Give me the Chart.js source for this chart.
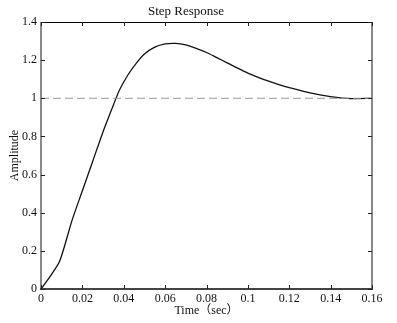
<!DOCTYPE html>
<html>
<head>
<meta charset="utf-8">
<title>Step Response</title>
<script src="https://cdn.jsdelivr.net/npm/chart.js@4/dist/chart.umd.min.js"></script>
<style>
  html, body { margin: 0; padding: 0; background: #fff; }
</style>
</head>
<body>
<canvas id="stepChart" width="397" height="323"></canvas>
<script>
// step response samples (sec, amplitude)
const timeSec = [0, 0.004, 0.009, 0.015, 0.02, 0.025, 0.03, 0.035, 0.038, 0.042,
  0.046, 0.05, 0.055, 0.06, 0.065, 0.07, 0.075, 0.08, 0.085, 0.09,
  0.095, 0.1, 0.105, 0.11, 0.115, 0.12, 0.13, 0.14, 0.15, 0.16];
const amplitude = [0, 0.06, 0.145, 0.36, 0.515, 0.67, 0.825, 0.965, 1.045, 1.122,
  1.183, 1.232, 1.268, 1.285, 1.288, 1.28, 1.262, 1.24, 1.213, 1.186,
  1.158, 1.132, 1.11, 1.09, 1.072, 1.056, 1.028, 1.009, 0.998, 1.0];

// steady-state reference line
const refTime = [0, 0.16];
const refLevel = [1, 1];

const xTicks = [0, 0.02, 0.04, 0.06, 0.08, 0.1, 0.12, 0.14, 0.16];
const xTickLabels = ["0", "0.02", "0.04", "0.06", "0.08", "0.1", "0.12", "0.14", "0.16"];
const yTicks = [0, 0.2, 0.4, 0.6, 0.8, 1, 1.2, 1.4];
const yTickLabels = ["0", "0.2", "0.4", "0.6", "0.8", "1", "1.2", "1.4"];

const serif = "'Liberation Serif', 'Times New Roman', 'Noto Sans CJK SC', serif";

// box around the plot with inward tick marks
const framePlugin = {
  id: "frame",
  afterDraw(chart) {
    const { ctx, chartArea: a, scales: { x, y } } = chart;
    ctx.save();

    ctx.lineWidth = 1;
    ctx.strokeStyle = "#000";
    ctx.beginPath();
    ctx.moveTo(a.left, a.top + 0.5);
    ctx.lineTo(a.right, a.top + 0.5);
    ctx.stroke();

    ctx.lineWidth = 2;
    ctx.strokeStyle = "#888";
    ctx.beginPath();
    ctx.moveTo(a.left, a.top);
    ctx.lineTo(a.left, a.bottom);
    ctx.moveTo(a.right, a.top);
    ctx.lineTo(a.right, a.bottom);
    ctx.stroke();

    ctx.strokeStyle = "#444";
    ctx.beginPath();
    ctx.moveTo(a.left - 1, a.bottom);
    ctx.lineTo(a.right + 1, a.bottom);
    ctx.stroke();

    ctx.lineWidth = 1;
    ctx.strokeStyle = "#222";
    ctx.beginPath();
    xTicks.forEach(v => {
      const px = Math.round(x.getPixelForValue(v)) + 0.5;
      ctx.moveTo(px, a.bottom);
      ctx.lineTo(px, a.bottom - 4);
      ctx.moveTo(px, a.top);
      ctx.lineTo(px, a.top + 4);
    });
    yTicks.forEach(v => {
      const py = Math.round(y.getPixelForValue(v)) + 0.5;
      ctx.moveTo(a.left, py);
      ctx.lineTo(a.left + 4, py);
      ctx.moveTo(a.right, py);
      ctx.lineTo(a.right - 4, py);
    });
    ctx.stroke();
    ctx.restore();
  }
};

const ctx = document.getElementById("stepChart").getContext("2d");
new Chart(ctx, {
  type: "line",
  data: {
    datasets: [
      {
        label: "ref",
        data: refTime.map((t, i) => ({ x: t, y: refLevel[i] })),
        borderColor: "#9a9a9a",
        borderWidth: 1,
        borderDash: [8, 4],
        pointRadius: 0,
        fill: false
      },
      {
        label: "Amplitude",
        data: timeSec.map((t, i) => ({ x: t, y: amplitude[i] })),
        borderColor: "#111",
        borderWidth: 1.3,
        pointRadius: 0,
        tension: 0.25,
        fill: false
      }
    ]
  },
  options: {
    responsive: false,
    animation: false,
    layout: { padding: { left: 0, right: 25, top: 0, bottom: 0 } },
    plugins: {
      legend: { display: false },
      tooltip: { enabled: false },
      title: {
        display: true,
        text: "Step Response",
        color: "#111",
        font: { family: serif, size: 13, weight: "normal", lineHeight: 1.2 },
        padding: { top: 4, bottom: 2.4 }
      }
    },
    scales: {
      x: {
        type: "linear",
        min: 0,
        max: 0.16,
        afterFit: s => { s.height = 34; },
        afterBuildTicks: s => { s.ticks = xTicks.map(v => ({ value: v })); },
        grid: { display: false, drawTicks: false },
        border: { display: false },
        ticks: {
          padding: 3,
          color: "#111",
          maxRotation: 0,
          autoSkip: false,
          font: { family: serif, size: 12 },
          callback: (v, i) => xTickLabels[i]
        },
        title: {
          display: true,
          text: "Time（sec）",
          color: "#111",
          font: { family: serif, size: 12 },
          padding: { top: 0, bottom: 5 }
        }
      },
      y: {
        min: 0,
        max: 1.4,
        afterFit: s => { s.width = 41; },
        afterBuildTicks: s => { s.ticks = yTicks.map(v => ({ value: v })); },
        grid: { display: false, drawTicks: false },
        border: { display: false },
        ticks: {
          padding: 4,
          color: "#111",
          autoSkip: false,
          font: { family: serif, size: 12 },
          callback: (v, i) => yTickLabels[i]
        },
        title: {
          display: true,
          text: "Amplitude",
          color: "#111",
          font: { family: serif, size: 12 },
          padding: { top: 8, bottom: 0 }
        }
      }
    }
  },
  plugins: [framePlugin]
});
</script>
</body>
</html>
